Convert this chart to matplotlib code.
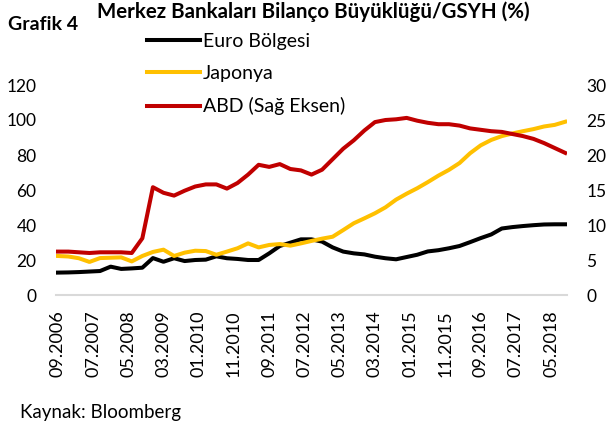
import matplotlib
matplotlib.use('Agg')
import matplotlib.pyplot as plt
import numpy as np
import pandas as pd

plt.rcParams['font.family'] = ['Lato', 'DejaVu Sans']

# quarterly observations, 09.2006 - 09.2018
dates = pd.date_range('2006-09-01', '2018-09-01', freq='3MS')

euro = [12.8, 12.9, 13.1, 13.4, 13.7, 16.2, 14.9, 15.2, 15.6, 21.1,
        19.0, 21.0, 19.4, 20.0, 20.2, 22.1, 21.0, 20.6, 20.0, 20.0,
        23.8, 28.0, 29.9, 31.8, 31.8, 30.5, 27.2, 24.8, 23.8, 23.2,
        21.9, 21.0, 20.4, 21.7, 23.0, 24.9, 25.6, 26.7, 28.0, 30.2,
        32.5, 34.6, 38.0, 38.8, 39.4, 39.9, 40.3, 40.4, 40.4]

japonya = [22.3, 22.0, 21.0, 18.9, 21.1, 21.3, 21.5, 19.2, 22.3, 24.6,
           25.9, 22.3, 24.2, 25.3, 25.1, 23.0, 24.8, 26.7, 29.5, 27.2,
           28.6, 29.1, 28.2, 29.5, 30.9, 32.2, 33.3, 37.1, 41.0, 43.8,
           46.7, 50.1, 54.5, 57.9, 61.0, 64.5, 68.2, 71.5, 75.4, 81.0,
           85.5, 88.6, 90.8, 92.3, 93.6, 94.8, 96.3, 97.2, 99.0]

# right axis
abd = [6.2, 6.2, 6.1, 6.0, 6.1, 6.1, 6.1, 6.0, 8.1, 15.4,
       14.6, 14.2, 14.9, 15.5, 15.8, 15.8, 15.2, 16.0, 17.2, 18.6,
       18.3, 18.7, 18.0, 17.8, 17.2, 17.9, 19.4, 20.9, 22.1, 23.5,
       24.7, 25.0, 25.1, 25.3, 24.9, 24.6, 24.4, 24.4, 24.2, 23.8,
       23.6, 23.4, 23.3, 23.0, 22.7, 22.3, 21.7, 21.0, 20.3]

tick_labels = ['09.2006', '07.2007', '05.2008', '03.2009', '01.2010',
               '11.2010', '09.2011', '07.2012', '05.2013', '03.2014',
               '01.2015', '11.2015', '09.2016', '07.2017', '05.2018']

# month index of each point (monthly category axis, label every 10 months)
start = dates[0]
x = np.array([(d.year - start.year) * 12 + d.month - start.month for d in dates])

fig = plt.figure(figsize=(6.14, 4.23), dpi=100)
ax = fig.add_axes([56/614, 1 - 295/423, 511/614, 210/423])
ax2 = ax.twinx()

fs = 12.5
l1, = ax.plot(x, euro, color='#000000', lw=2.9, label='Euro Bölgesi')
l2, = ax.plot(x, japonya, color='#FFC000', lw=2.9, label='Japonya')
l3, = ax2.plot(x, abd, color='#C00000', lw=2.9, label='ABD (Sağ Eksen)')

ax.set_xlim(-0.5, 144.5)
ax.set_ylim(0, 120)
ax2.set_ylim(0, 30)
ax.set_yticks(np.arange(0, 121, 20))
ax2.set_yticks(np.arange(0, 31, 5))
ax.set_xticks(np.arange(0, 141, 10))
ax.set_xticklabels(tick_labels, rotation=90)

for a in (ax, ax2):
    for s in a.spines.values():
        s.set_visible(False)
    a.tick_params(length=0, labelsize=fs)
ax.spines['bottom'].set_visible(True)
ax.spines['bottom'].set_color('#D9D9D9')
ax.spines['bottom'].set_linewidth(1.5)
ax.tick_params(axis='y', pad=14)
ax2.tick_params(axis='y', pad=14)
ax.tick_params(axis='x', pad=11, labelsize=13)

fig.text(8/614, 1 - 24/423, 'Grafik 4', fontsize=14, fontweight='bold', va='center')
fig.text(97/614, 1 - 12/423, 'Merkez Bankaları Bilanço Büyüklüğü/GSYH (%)',
         fontsize=14.8, fontweight='bold', va='center')
fig.text(20/614, 1 - 412/423, 'Kaynak: Bloomberg', fontsize=13.5, va='center')

fig.legend(handles=[l1, l2, l3], loc='upper left',
           bbox_to_anchor=(147/614, 1 - 33/423), frameon=False, fontsize=14,
           handlelength=2.75, handletextpad=0.12, labelspacing=0.78,
           borderpad=0, borderaxespad=0)

fig.savefig('out.png', dpi=100)
